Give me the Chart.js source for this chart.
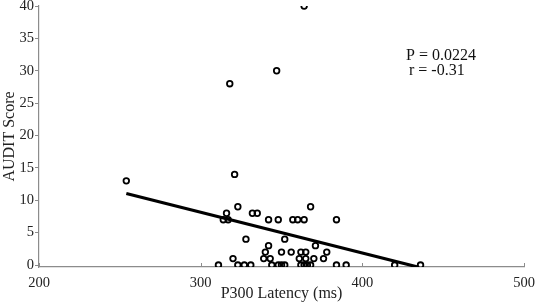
<!DOCTYPE html>
<html>
<head>
<meta charset="utf-8">
<script src="https://cdn.jsdelivr.net/npm/chart.js@4"></script>
<style>
  html, body { margin: 0; padding: 0; background: #fff; }
  #wrap { width: 536px; height: 303px; }
</style>
</head>
<body>
<div id="wrap"><canvas id="scatter"></canvas></div>
<script>
// P300 latency (ms) and AUDIT score per participant
const latency = [254, 364, 347, 318, 321, 323, 368, 316, 332, 335,
                 314, 317, 342, 348, 357, 360, 364, 384, 328, 352,
                 342, 371, 340, 350, 356, 362, 365, 378, 320, 339,
                 343, 361, 365, 370, 376, 311, 323, 327, 331, 344,
                 348, 350, 352, 362, 364, 366, 368, 384, 390, 420, 436];
const audit   = [13, 40, 30, 28, 14, 9, 9, 8, 8, 8,
                 7, 7, 7, 7, 7, 7, 7, 7, 4, 4,
                 3, 3, 2, 2, 2, 2, 2, 2, 1, 1,
                 1, 1, 1, 1, 1, 0, 0, 0, 0, 0,
                 0, 0, 0, 0, 0, 0, 0, 0, 0, 0, 0];

// regression line end points
const fitX = [254, 435];
const fitY = [11.05, -0.35];

const xTicks = [200, 300, 400, 500];
const yTicks = [0, 5, 10, 15, 20, 25, 30, 35, 40];

const statLines = ['P = 0.0224', 'r = -0.31'];

const serif = 'Liberation Serif, Times New Roman, serif';
const axisGrey = '#8c8c8c';

const points = latency.map((x, i) => ({ x: x, y: audit[i] }));
const fitLine = fitX.map((x, i) => ({ x: x, y: fitY[i] }));

// inward x ticks + stats text
const extras = {
    id: 'extras',
    afterDraw(chart) {
        const ctx = chart.ctx;
        const xs = chart.scales.x;
        const area = chart.chartArea;
        ctx.save();
        ctx.strokeStyle = axisGrey;
        ctx.lineWidth = 1;
        xTicks.forEach(v => {
            const px = Math.round(xs.getPixelForValue(v)) + 0.5;
            ctx.beginPath();
            ctx.moveTo(px, area.bottom);
            ctx.lineTo(px, area.bottom - 4);
            ctx.stroke();
        });
        ctx.fillStyle = '#111';
        ctx.font = '16px ' + serif;
        ctx.textBaseline = 'middle';
        ctx.textAlign = 'left';
        ctx.fillText(statLines[0], 406, 56);
        ctx.fillText(statLines[1], 409, 71);
        ctx.restore();
    }
};

new Chart(document.getElementById('scatter'), {
    type: 'scatter',
    data: {
        datasets: [
            {
                label: 'Participants',
                data: points,
                pointRadius: 2.8,
                pointBorderWidth: 1.8,
                pointBorderColor: '#000',
                pointBackgroundColor: 'rgba(0,0,0,0)',
                order: 2
            },
            {
                type: 'line',
                label: 'Fit',
                data: fitLine,
                borderColor: '#000',
                borderWidth: 3,
                pointRadius: 0,
                fill: false,
                order: 1
            }
        ]
    },
    options: {
        responsive: true,
        maintainAspectRatio: false,
        animation: false,
        layout: { padding: { top: 6, right: 12, left: 0, bottom: 0 } },
        plugins: {
            legend: { display: false },
            tooltip: { enabled: false }
        },
        scales: {
            x: {
                type: 'linear',
                min: 200,
                max: 500,
                afterBuildTicks: s => { s.ticks = xTicks.map(v => ({ value: v })); },
                afterFit: s => { s.height = 36; s.paddingLeft = 0; s.paddingRight = 0; },
                grid: { display: false, drawTicks: false },
                border: { display: true, color: axisGrey, width: 1.2 },
                ticks: {
                    padding: 7,
                    color: '#222',
                    font: { family: serif, size: 14.5 },
                    maxRotation: 0
                },
                title: {
                    display: true,
                    text: 'P300 Latency (ms)',
                    color: '#222',
                    font: { family: serif, size: 16 },
                    padding: 0
                }
            },
            y: {
                type: 'linear',
                min: -0.3,
                max: 40,
                afterBuildTicks: s => { s.ticks = yTicks.map(v => ({ value: v })); },
                afterFit: s => { s.width = 39; s.paddingTop = 0; s.paddingBottom = 0; },
                grid: { drawOnChartArea: false, drawTicks: true, tickLength: 4, color: axisGrey },
                border: { display: true, color: axisGrey, width: 1.2 },
                ticks: {
                    padding: 1,
                    color: '#222',
                    font: { family: serif, size: 14.5 }
                },
                title: {
                    display: true,
                    text: 'AUDIT Score',
                    color: '#222',
                    font: { family: serif, size: 16 },
                    padding: 0
                }
            }
        }
    },
    plugins: [extras]
});
</script>
</body>
</html>
